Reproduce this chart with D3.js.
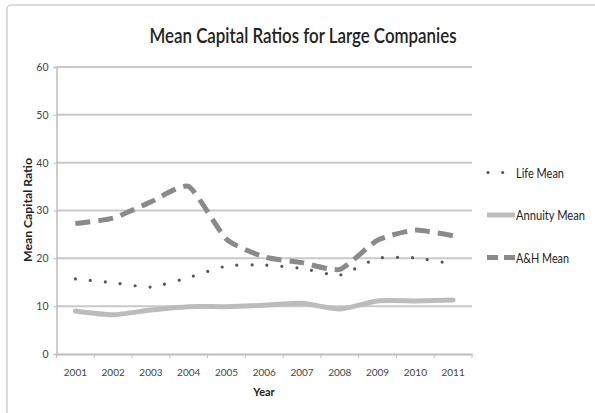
<!DOCTYPE html>
<html><head><meta charset="utf-8">
<script src="https://cdn.jsdelivr.net/npm/d3@7"></script>
<style>body{margin:0;background:#fff}svg{display:block}text{font-family:Lato,"Open Sans",sans-serif}</style>
</head><body><svg id="c" width="595" height="413"></svg>
<script>
const years = ["2001","2002","2003","2004","2005","2006","2007","2008","2009","2010","2011"];
const lifeMean = [15.7,14.9,14.0,16.0,18.4,18.6,17.9,16.5,20.0,20.1,18.8];
const annuityMean = [9.0,8.2,9.2,9.9,9.9,10.2,10.6,9.4,11.1,11.1,11.3];
const ahMean = [27.3,28.4,31.8,35.0,24.0,20.3,19.1,17.7,23.8,25.9,24.7];
const yTicks = [0,10,20,30,40,50,60];
const seriesNames = ["Life Mean","Annuity Mean","A&H Mean"];

const svg = d3.select("#c");
svg.append("rect").attr("x",7).attr("y",5).attr("width",600).attr("height",420)
  .attr("rx",4).attr("fill","#fff").attr("stroke","#cfcfcf").attr("stroke-width",1.5);

const m = {l:56.5, r:472, t:67, b:354};
const x = d3.scaleBand().domain(years).range([m.l,m.r]);
const y = d3.scaleLinear().domain([0,60]).range([m.b,m.t]);

// grid
svg.append("g").selectAll("line").data(yTicks.filter(d=>d>0)).join("line")
  .attr("x1",m.l).attr("x2",m.r).attr("y1",d=>y(d)).attr("y2",d=>y(d))
  .attr("stroke","#c9c9c9").attr("stroke-width",2);

// y axis
const ya = svg.append("g").attr("transform",`translate(${m.l},0)`)
  .call(d3.axisLeft(y).tickValues(yTicks).tickSize(3).tickPadding(5));
ya.select(".domain").attr("stroke","#bdbdbd").attr("stroke-width",1.5);
ya.selectAll(".tick line").attr("stroke","#bdbdbd");
ya.selectAll("text").attr("fill","#444").attr("font-size",10.5).attr("font-family","Lato");

// x axis
const xa = svg.append("g").attr("transform",`translate(0,${m.b})`)
  .call(d3.axisBottom(x).tickSize(0).tickPadding(15));
xa.select(".domain").attr("stroke","#bdbdbd").attr("stroke-width",2);
xa.selectAll("text").attr("fill","#444").attr("font-size",10).attr("font-family","Lato");
svg.append("g").selectAll("line").data(years.concat(["end"])).join("line")
  .attr("x1",(d,i)=>m.l+i*x.step()).attr("x2",(d,i)=>m.l+i*x.step())
  .attr("y1",m.b).attr("y2",m.b+4).attr("stroke","#bdbdbd");

const line = d3.line().x((d,i)=>x(years[i])+x.bandwidth()/2).y(d=>y(d)).curve(d3.curveCardinal.tension(0.45));

svg.append("path").datum(annuityMean).attr("d",line).attr("fill","none")
  .attr("stroke","#bcbcbc").attr("stroke-width",5).attr("stroke-linecap","round");
svg.append("path").datum(ahMean).attr("d",line).attr("fill","none")
  .attr("stroke","#8a8a8a").attr("stroke-width",5).attr("stroke-dasharray","15,8");
svg.append("path").datum(lifeMean).attr("d",line).attr("fill","none")
  .attr("stroke","#555").attr("stroke-width",3.2).attr("stroke-linecap","round").attr("stroke-dasharray","0,15");

// title
svg.append("text").attr("x",303).attr("y",42.5).attr("text-anchor","middle")
  .attr("font-size",21).attr("font-weight",600).attr("fill","#222")
  .attr("textLength",307).attr("lengthAdjust","spacingAndGlyphs")
  .text("Mean Capital Ratios for Large Companies");

svg.append("text").attr("transform","translate(32,210) rotate(-90)").attr("text-anchor","middle")
  .attr("font-size",10.5).attr("font-weight",700).attr("fill","#222")
  .attr("textLength",104).attr("lengthAdjust","spacingAndGlyphs").text("Mean Capital Ratio");
svg.append("text").attr("x",264).attr("y",396).attr("text-anchor","middle")
  .attr("font-size",11).attr("font-weight",700).attr("fill","#222").text("Year");

// legend
const lg = svg.append("g");
const ly = [172.5,215,257.5];
lg.append("line").attr("x1",488).attr("x2",503).attr("y1",ly[0]).attr("y2",ly[0])
  .attr("stroke","#555").attr("stroke-width",3.2).attr("stroke-linecap","round").attr("stroke-dasharray","0,14.7");
lg.append("line").attr("x1",487).attr("x2",515).attr("y1",ly[1]).attr("y2",ly[1])
  .attr("stroke","#bcbcbc").attr("stroke-width",5);
lg.append("line").attr("x1",487).attr("x2",515).attr("y1",ly[2]).attr("y2",ly[2])
  .attr("stroke","#8a8a8a").attr("stroke-width",5).attr("stroke-dasharray","11,6");
const lw = [48,69,53];
lg.selectAll("text").data(seriesNames).join("text")
  .attr("x",516).attr("y",(d,i)=>ly[i]+5)
  .attr("font-size",13).attr("fill","#222")
  .attr("textLength",(d,i)=>lw[i]).attr("lengthAdjust","spacingAndGlyphs").text(d=>d);
</script></body></html>
